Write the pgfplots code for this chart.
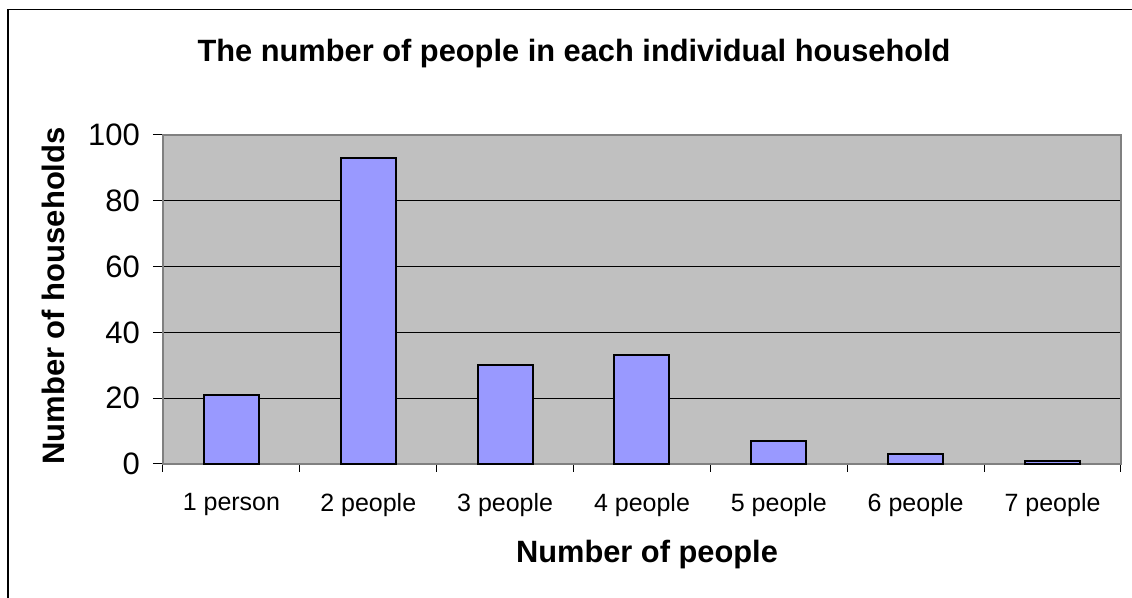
\documentclass[border=0pt]{standalone}
\usepackage{fontspec}
\setmainfont{Liberation Sans}
\usepackage{pgfplots}
\pgfplotsset{compat=1.18}
\definecolor{plotbg}{HTML}{C0C0C0}
\definecolor{barfill}{HTML}{9999FF}
\definecolor{frame}{HTML}{808080}
\begin{document}
\begin{tikzpicture}
\path[use as bounding box] (-81.5pt,-67pt) rectangle (484.5pt,232pt);
\draw[line width=0.8pt] (-77.5pt,-70pt) -- (-77.5pt,227.25pt) -- (490pt,227.25pt);
\begin{axis}[
  scale only axis,
  width=479pt, height=164.5pt,
  xmin=-0.5, xmax=6.5, ymin=0, ymax=100,
  axis background/.style={fill=plotbg},
  axis line style={frame, line width=1pt},
  xtick={0,...,6},
  xticklabels={1 person,2 people,3 people,4 people,5 people,6 people,7 people},
  major x tick style={draw=none},
  minor xtick={-0.5,0.5,1.5,2.5,3.5,4.5,5.5,6.5},
  minor x tick style={black, line width=0.5pt},
  minor tick length=4pt,
  ytick={0,20,40,60,80,100},
  ymajorgrids,
  major grid style={black, line width=0.5pt},
  y tick style={black, line width=0.5pt},
  major tick length=5pt,
  tick align=outside,
  xtick pos=bottom, ytick pos=left,
  /pgf/number format/assume math mode=true,
  yticklabel style={font=\fontsize{15.5}{17}\selectfont, xshift=-3pt},
  xticklabel style={font=\fontsize{12.5}{14}\selectfont, yshift=-6pt},
  clip=false,
]
\addplot[ybar, bar width=27.5pt, fill=barfill, draw=black, line width=1pt]
  coordinates {(0,21) (1,93) (2,30) (3,33) (4,7) (5,3) (6,1)};
\end{axis}
\node[font=\fontsize{15.4}{18}\bfseries\selectfont] at (205.5pt,205pt) {The number of people in each individual household};
\node[font=\fontsize{15.5}{18}\bfseries\selectfont, rotate=90] at (-55pt,84pt) {Number of households};
\node[font=\fontsize{15.4}{18}\bfseries\selectfont] at (242pt,-45.5pt) {Number of people};
\end{tikzpicture}
\end{document}
